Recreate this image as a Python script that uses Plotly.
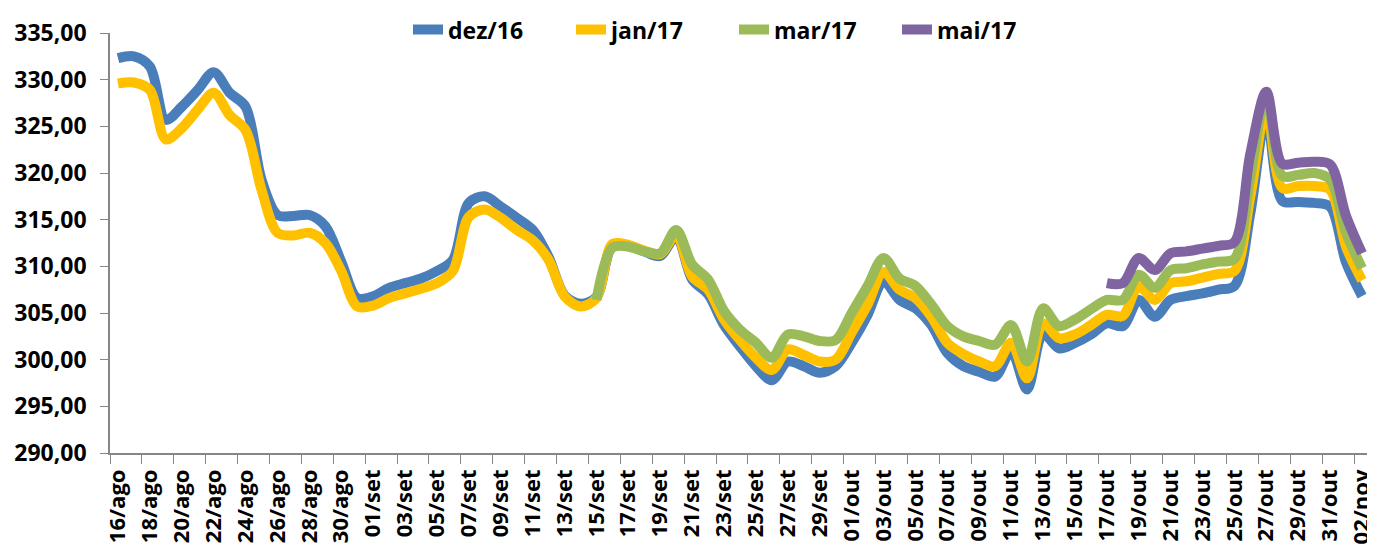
import plotly.graph_objects as go
import pandas as pd

# ---- categories: every calendar day from 16/ago to 02/nov ----
month_pt = {8: "ago", 9: "set", 10: "out", 11: "nov"}
days = pd.date_range("2017-08-16", "2017-11-02", freq="D")
dates = [f"{d.day:02d}/{month_pt[d.month]}" for d in days]

# ---- series values ----
dez16 = [332.3, 332.5, 331.4, 325.7, 327.1, 328.9, 330.8, 328.6, 327.1, 319.3,
         315.5, 315.4, 315.5, 314.3, 310.5, 306.6, 306.8, 307.7, 308.2, 308.7,
         309.5, 310.7, 316.8, 317.5, 316.4, 315.2, 313.9, 311.0, 306.9, 306.0,
         306.7, 312.2, 312.2, 311.6, 311.1, 313.2, 308.6, 307.0, 303.7, 301.4,
         299.3, 297.8, 299.8, 299.3, 298.6, 299.3, 301.8, 304.8, 308.4, 306.4,
         305.5, 303.7, 300.7, 299.3, 298.7, 298.2, 300.9, 296.8, 302.8, 301.2,
         301.8, 302.7, 303.9, 303.6, 306.4, 304.6, 306.4, 306.8, 307.1, 307.5,
         307.9, 315.7, 326.0, 317.0, 316.9, 316.8, 316.4, 310.4, 306.8]

jan17 = [329.6, 329.7, 328.9, 323.6, 324.8, 326.8, 328.6, 326.2, 324.6, 318.2,
         313.6, 313.3, 313.6, 312.5, 309.5, 305.7, 305.8, 306.6, 307.1, 307.6,
         308.2, 309.5, 315.3, 316.1, 315.2, 313.9, 312.8, 310.7, 306.8, 305.7,
         306.6, 312.4, 312.3, 311.7, 311.3, 313.4, 308.9, 307.5, 304.3, 302.1,
         300.2, 298.9, 301.1, 300.5, 299.8, 300.0, 302.9, 305.9, 309.4, 307.5,
         306.6, 304.6, 301.8, 300.6, 299.8, 299.3, 301.8, 298.0, 303.9, 302.3,
         302.7, 303.7, 304.8, 304.7, 307.9, 306.4, 308.2, 308.4, 308.8, 309.2,
         309.5, 317.5, 327.0, 318.4, 318.6, 318.6, 318.2, 312.1, 308.5]

mar17 = [None] * 30 + [
         306.4, 312.0, 312.1, 311.6, 311.4, 313.9, 310.2, 308.6, 305.2, 303.2,
         301.8, 300.2, 302.7, 302.5, 302.0, 302.1, 305.0, 307.9, 310.9, 308.7,
         307.9, 305.9, 303.6, 302.5, 302.0, 301.6, 303.7, 299.8, 305.5, 303.6,
         304.3, 305.4, 306.4, 306.4, 309.1, 307.7, 309.6, 309.8, 310.2, 310.5,
         310.8, 319.6, 328.5, 319.7, 319.8, 320.0, 319.3, 313.6, 309.8]

mai17 = [None] * 62 + [
         308.2, 308.2, 310.9, 309.6, 311.4, 311.6, 311.9, 312.2, 312.6, 322.1,
         328.7, 321.0, 321.1, 321.2, 320.9, 315.4, 311.4]

series = [("dez/16", dez16, "#4A7EBB"),
          ("jan/17", jan17, "#FFC000"),
          ("mar/17", mar17, "#9BBB59"),
          ("mai/17", mai17, "#8064A2")]

FONT = "Open Sans"

fig = go.Figure()
for name, vals, color in series:
    fig.add_trace(go.Scatter(
        x=dates, y=vals, name=name, mode="lines",
        line=dict(color=color, width=10, shape="spline", smoothing=0.9),
        connectgaps=False,
    ))

# page body has an 8px margin, so the figure is sized/offset to compensate
fig.update_layout(
    width=1367, height=542,
    margin=dict(l=102, r=5, t=25, b=97, autoexpand=False),
    paper_bgcolor="white", plot_bgcolor="white",
    separators=",.",
    font=dict(family=FONT, size=22, color="black"),
    showlegend=True,
    legend=dict(orientation="h", x=0.2365, xanchor="left", xref="paper",
                y=1.008, yanchor="middle",
                font=dict(family=FONT, size=23, color="black", weight="bold"),
                bgcolor="rgba(0,0,0,0)", traceorder="normal",
                entrywidth=118, entrywidthmode="pixels"),
)
fig.update_xaxes(
    type="category", categoryorder="array", categoryarray=dates,
    tickmode="array", tickvals=dates[::2], ticktext=dates[::2],
    tickson="boundaries", ticks="outside", ticklen=9, tickcolor="#868686",
    tickangle=-90, showgrid=False, showline=True, linecolor="#868686", linewidth=1.5,
    tickfont=dict(family=FONT, size=22, color="black", weight="bold"),
    ticklabelstandoff=6,
    range=[-0.5, len(dates) - 0.5], zeroline=False,
)
fig.update_yaxes(
    range=[290, 335], dtick=5, tick0=290, tickformat=".2f",
    ticks="outside", ticklen=8, tickcolor="#868686",
    showgrid=False, showline=True, linecolor="#868686", linewidth=1.5,
    tickfont=dict(family=FONT, size=23, color="black", weight="bold"),
    ticklabelstandoff=9, zeroline=False,
)

fig.write_html("out.html")
